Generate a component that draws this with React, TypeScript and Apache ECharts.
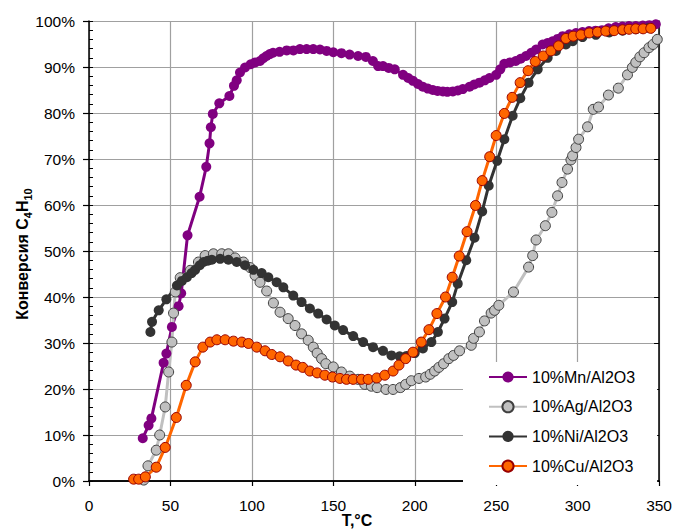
import React, { useEffect, useRef } from "react";
import * as echarts from "echarts";

const xTicks = [0, 50, 100, 150, 200, 250, 300, 350];
const seriesNames = ["10%Mn/Al2O3", "10%Ag/Al2O3", "10%Ni/Al2O3", "10%Cu/Al2O3"];

const mnT = [33, 36.6, 38.3, 45.8, 47.5, 50.9, 55, 56.6, 60.5, 67.9, 72, 74, 74.8, 76, 80, 86.2, 89, 90.7, 92.7, 95.8, 99.3, 102, 105, 107, 109, 111, 113, 117, 121.4, 125.5, 129.5, 133.6, 137.7, 141.8, 145.9, 150, 155, 160, 165.2, 170, 174.3, 177.5, 180.5, 184, 187.7, 192.8, 196, 198.9, 202, 205, 208, 211.1, 214, 217.3, 220, 223.4, 226.5, 229.5, 233.6, 236.5, 239.7, 243, 245.9, 250, 252.5, 255, 258.5, 262, 265, 268.3, 271.5, 274.5, 278.5, 281.5, 284.6, 287.7, 290.8, 295, 299, 303, 307, 311, 315, 319, 323.4, 327.5, 331.5, 335.7, 340, 344, 348];
const mnY = [9.3, 12.1, 13.6, 25.7, 27.7, 33.5, 38, 40.8, 53.4, 61.8, 68.3, 73.4, 76.9, 79.8, 82.1, 83.7, 85.9, 87.1, 88.8, 89.9, 90.6, 91, 91.3, 91.9, 92.4, 92.8, 93.1, 93.3, 93.6, 93.6, 93.9, 93.9, 93.9, 93.8, 93.5, 93.2, 93, 92.7, 92.4, 92.2, 91.3, 90.2, 90.2, 89.8, 89.5, 88.3, 87.6, 87, 86.3, 85.7, 85.3, 85, 84.8, 84.7, 84.6, 84.7, 84.9, 85.2, 85.7, 86.2, 86.6, 87.1, 87.6, 88.3, 89.5, 90.7, 91, 91.3, 91.8, 92.4, 93.1, 93.8, 94.9, 95.2, 95.6, 96.1, 96.7, 97.1, 97.4, 97.6, 97.8, 97.9, 98, 98.4, 98.7, 98.8, 98.9, 98.9, 99, 99.1, 99.3];

const agT = [33.6, 36.2, 41.3, 43.4, 46.8, 48.9, 50.9, 51.9, 53, 56, 62.2, 67.2, 71.3, 76.4, 81.5, 85.6, 89.7, 94.8, 98.9, 102, 105, 109.1, 113.2, 117.3, 122.3, 126.5, 130.5, 134.6, 137.7, 140.1, 142.8, 145.4, 150, 155, 160.1, 165.2, 169.3, 173.4, 176.9, 182.3, 186.7, 191.2, 194.4, 197.9, 202.6, 206.7, 209.5, 212.2, 214.8, 217.7, 220.9, 223.8, 227.5, 234.7, 236.1, 239.7, 242.8, 246.9, 249, 251.6, 260.6, 269.9, 272.4, 274.5, 280.2, 284.2, 287.7, 290.4, 293.8, 295.9, 296.9, 299, 300.6, 306.1, 309.6, 312.8, 318.9, 325, 330.6, 333.6, 335.7, 338.2, 340.8, 343.8, 346.3, 348.9];
const agY = [0.2, 3.3, 6.7, 10, 16.1, 23.7, 30.2, 36.5, 41.1, 44.2, 45.8, 47.6, 49, 49.4, 49.4, 49.4, 48.5, 47.6, 46.4, 44.7, 43.2, 41.3, 38.7, 36.7, 35.3, 33.8, 32, 30.6, 29.1, 27.8, 26.6, 25.5, 24.8, 23.7, 22.8, 22.1, 21, 20.6, 20.3, 19.9, 19.9, 20.3, 21, 21.8, 22.3, 22.6, 23.2, 23.9, 24.7, 25.5, 26.6, 27.3, 28.3, 29.5, 31, 32.4, 34.8, 36.5, 37.1, 38.2, 41.1, 46.5, 49, 52.4, 55.5, 58.4, 62, 64.9, 67.8, 69.8, 70.7, 72.5, 74.3, 77, 80.8, 81.3, 83.9, 85.4, 88.3, 89.9, 91, 92.2, 93.1, 94.2, 94.9, 96];

const niT = [37.7, 38.7, 42.8, 47.5, 54, 57, 60.1, 63, 65.2, 68, 70.3, 73, 75.4, 80.5, 85.6, 90.7, 95.8, 100.9, 106, 110.1, 115.2, 119.3, 125.4, 130.5, 135.6, 140.7, 145.9, 150.9, 156, 162.2, 168.3, 174.4, 180.5, 185.7, 190.7, 195, 200, 205, 210.2, 214.2, 218.3, 223, 226.4, 231.6, 236.7, 241.4, 245.4, 250.6, 255, 260.1, 264.8, 269.9, 275.5, 281.6, 286.7, 292.8, 297, 303, 311.2, 319.4, 327.6, 335.7, 343.8];
const niY = [32.4, 34.6, 37.1, 39.5, 42.5, 43.5, 44.3, 45.2, 45.9, 46.9, 47.6, 47.9, 48.1, 48.3, 48.1, 47.6, 46.9, 45.9, 45.2, 44.3, 43.2, 42.1, 40.3, 38.9, 37.5, 36.4, 35.1, 33.8, 32.8, 31.5, 30.2, 29.1, 28.3, 27.3, 27.1, 27.2, 27.8, 28.8, 30.2, 32.4, 35.3, 38.9, 42.9, 48, 52.9, 58.6, 64.2, 69.6, 74.3, 79.4, 83.2, 86.6, 89.5, 92, 93.5, 94.9, 95.6, 96.5, 97, 97.5, 97.9, 98.2, 98.5];

const cuT = [27.4, 30.5, 34.6, 41.3, 46.8, 53.6, 59.7, 65.2, 69.9, 74.4, 78.5, 83.6, 88.7, 93.8, 97.9, 103, 108.1, 112.2, 117.3, 122.3, 127.1, 131.2, 135.6, 140.1, 144.8, 149.5, 154, 158.1, 162.2, 167.3, 171.4, 176.7, 181.6, 186.7, 190.3, 194.4, 198.9, 204, 208.7, 213.6, 218.9, 223, 227.3, 232.1, 237.3, 241.4, 246, 250, 255, 259.8, 264.7, 269.6, 274, 278.9, 283.6, 288.3, 292.8, 297.3, 302, 307.1, 312.2, 317.3, 322.4, 327.6, 331.6, 335.7, 340.2, 344.9];
const cuY = [0.4, 0.4, 0.9, 3, 7.3, 13.8, 20.8, 25.9, 29.1, 30.2, 30.7, 30.7, 30.4, 30.2, 29.9, 29.1, 28.3, 27.5, 27, 26.1, 25.2, 24.7, 23.9, 23.5, 23, 22.6, 22.3, 22.1, 22.1, 22.1, 22.1, 22.4, 23, 23.9, 25.2, 26.6, 28, 30.2, 32.9, 36.4, 40, 44.3, 48.9, 54.2, 59.9, 65.3, 70.5, 75.1, 79.9, 83.4, 86.6, 89.2, 91.2, 92.4, 93.5, 94.6, 96.2, 96.7, 97, 97.4, 97.6, 97.8, 97.9, 98.1, 98.2, 98.3, 98.3, 98.4];

const zip = (t: number[], y: number[]) => t.map((v, i) => [v, y[i]]);

const FONT = "'Liberation Sans', Arial, sans-serif";

export default function App() {
  const ref = useRef<HTMLDivElement>(null);
  useEffect(() => {
    if (!ref.current) return;
    document.body.style.margin = "0";
    const chart = echarts.init(ref.current, null, { renderer: "svg" });
    const gridColor = "#a0a0a0";
    const mk = (name: string, data: number[][], color: string, fill: string, border: string, bw: number) => ({
      name,
      type: "line",
      data,
      symbol: "circle",
      symbolSize: 10,
      lineStyle: { color, width: 3 },
      itemStyle: { color: fill, borderColor: border, borderWidth: bw },
      emphasis: { disabled: true },
    });
    chart.setOption({
      animation: false,
      backgroundColor: "#fff",
      textStyle: { fontFamily: FONT },
      grid: { left: 89, top: 21, width: 571, height: 460, containLabel: false },
      xAxis: [
        {
          type: "value",
          min: 0,
          max: 350,
          interval: 50,
          axisLine: { lineStyle: { color: "#000", width: 1.5 } },
          axisTick: { show: true, length: 5, lineStyle: { color: "#000", width: 1.2 } },
          axisLabel: { color: "#000", fontSize: 15.5, margin: 16, fontFamily: FONT },
          splitLine: { show: true, lineStyle: { color: gridColor, width: 1.2 } },
        },
        {
          type: "value",
          position: "top",
          min: 0,
          max: 350,
          interval: 50,
          axisLine: { show: true, lineStyle: { color: "#000", width: 1.5 } },
          axisTick: { show: false },
          axisLabel: { show: false },
          splitLine: { show: false },
        },
      ],
      yAxis: [
        {
          type: "value",
          min: 0,
          max: 100,
          interval: 10,
          axisLine: { show: true, lineStyle: { color: "#000", width: 1.5 } },
          axisTick: { show: true, length: 6, lineStyle: { color: "#000", width: 1.2 } },
          axisLabel: { color: "#000", fontSize: 15.5, margin: 14, formatter: "{value}%", fontFamily: FONT },
          splitLine: { show: true, lineStyle: { color: gridColor, width: 1.2 } },
        },
        {
          type: "value",
          position: "left",
          min: 0,
          max: 100,
          interval: 2,
          axisLine: { show: false },
          axisTick: { show: true, inside: true, length: 4, lineStyle: { color: "#000", width: 1 } },
          axisLabel: { show: false },
          splitLine: { show: false },
        },
        {
          type: "value",
          position: "right",
          min: 0,
          max: 100,
          interval: 10,
          axisLine: { show: true, lineStyle: { color: "#000", width: 1.5 } },
          axisTick: { show: true, inside: true, length: 5, lineStyle: { color: "#000", width: 1 } },
          axisLabel: { show: false },
          splitLine: { show: false },
        },
      ],
      legend: {
        orient: "vertical",
        left: 463,
        top: 362,
        backgroundColor: "#fff",
        padding: [7, 22, 11, 25],
        itemWidth: 38,
        itemHeight: 14,
        itemGap: 13.7,
        textStyle: { color: "#000", fontSize: 16, fontFamily: FONT },
        data: seriesNames,
      },
      series: [
        mk(seriesNames[0], zip(mnT, mnY), "#800080", "#800080", "#800080", 0),
        mk(seriesNames[1], zip(agT, agY), "#c0c0c0", "#c0c0c0", "#404040", 1),
        mk(seriesNames[2], zip(niT, niY), "#333333", "#333333", "#333333", 0),
        mk(seriesNames[3], zip(cuT, cuY), "#ff6600", "#ff6600", "#990000", 1),
      ],
      graphic: [
        {
          type: "text",
          x: 22,
          y: 254,
          rotation: Math.PI / 2,
          style: {
            text: "Конверсия C{sub|4}H{sub|10}",
            fontSize: 16,
            fontWeight: "bold",
            fontFamily: FONT,
            fill: "#000",
            align: "center",
            verticalAlign: "middle",
            rich: {
              sub: { fontSize: 11, fontWeight: "bold", fontFamily: FONT, verticalAlign: "bottom", padding: [0, 0, -3, 0], fill: "#000" },
            },
          },
        },
        {
          type: "text",
          x: 357,
          y: 520,
          style: {
            text: "Т,°С",
            fontSize: 16,
            fontWeight: "bold",
            fontFamily: FONT,
            fill: "#000",
            align: "center",
            verticalAlign: "middle",
          },
        },
      ],
    });
    return () => chart.dispose();
  }, []);
  return <div ref={ref} style={{ width: 675, height: 530 }} />;
}
